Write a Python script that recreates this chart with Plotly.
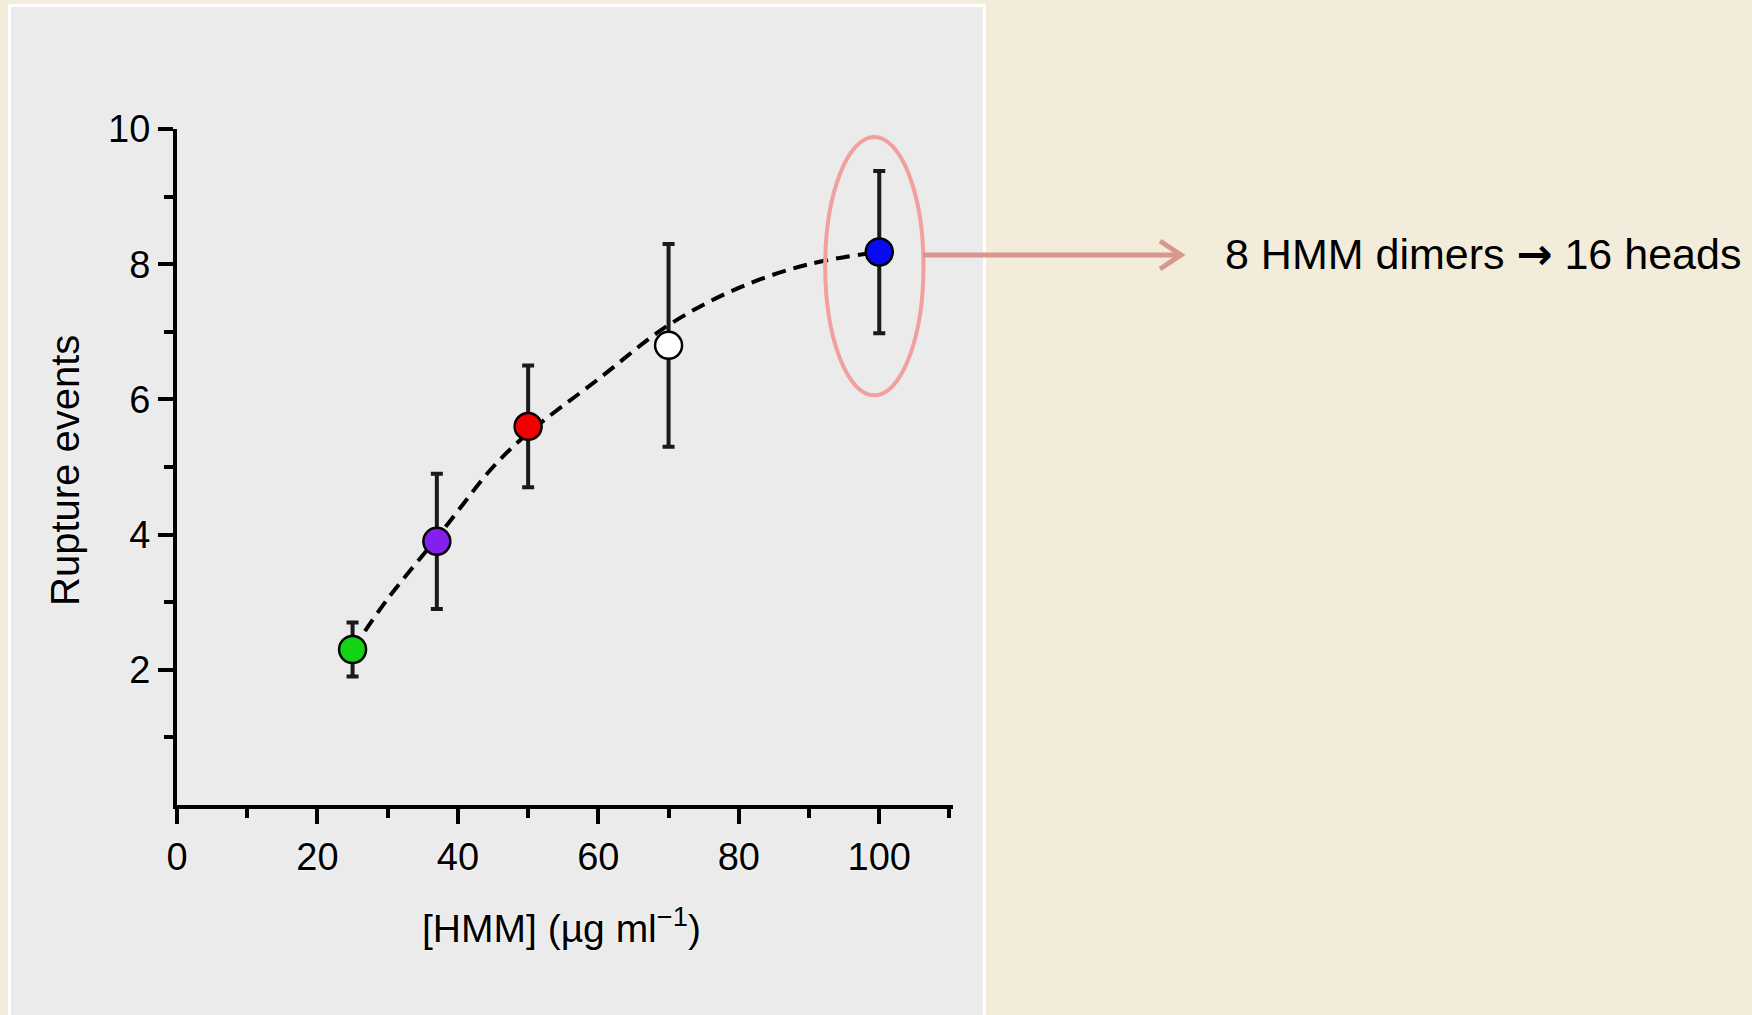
import plotly.graph_objects as go

# =========================
# DATA
# =========================
hmm_conc = [25, 37, 50, 70, 100]
rupture_events = [2.3, 3.9, 5.6, 6.8, 8.18]
rupture_err = [0.4, 1.0, 0.9, 1.5, 1.2]
point_colors = ["#12D412", "#8420EE", "#F20000", "#FFFFFF", "#0A0AF2"]

fit_x = [25, 30, 37, 40, 45, 50, 60, 70, 80, 90, 100]
fit_y = [2.3, 3.05, 3.95, 4.35, 5.0, 5.5, 6.3, 7.1, 7.65, 8.0, 8.18]

x_ticks = [0, 20, 40, 60, 80, 100]
x_minor = [10, 30, 50, 70, 90, 110]
y_ticks = [2, 4, 6, 8, 10]
y_minor = [1, 3, 5, 7, 9]

note_text = ("8 HMM dimers "
             "<span style=\"font-family:'DejaVu Sans';font-weight:bold\">→</span>"
             " 16 heads")

# =========================
# STYLE
# =========================
BEIGE = "#F3ECDA"
PANEL = "#EBEBEB"
BLACK = "#000000"
PINK = "#F0A0A0"
ARROW = "#D9968F"
FONT = "Liberation Sans, Arial, Helvetica, sans-serif"
HALO = "0px 0px 3px #FFFFFF"

W, H = 1752, 1015
ML, MR, MT, MB = 177, 799, 129, 210


def px(x):
    return (x - ML) / (W - ML - MR)


def py(y):
    return (H - MB - y) / (H - MT - MB)


AXIS = dict(
    showgrid=False,
    zeroline=False,
    showline=True,
    linecolor=BLACK,
    linewidth=4,
    ticks="outside",
    tickcolor=BLACK,
    tickwidth=3.5,
    ticklen=15,
    tickfont=dict(family=FONT, size=38, color=BLACK, shadow=HALO),
)

fig = go.Figure()

# fitted curve
fig.add_trace(go.Scatter(
    x=fit_x,
    y=fit_y,
    mode="lines",
    line=dict(color=BLACK, width=4, dash="14px,8px", shape="spline"),
    hoverinfo="skip",
    showlegend=False
))

# measured points
fig.add_trace(go.Scatter(
    x=hmm_conc,
    y=rupture_events,
    mode="markers",
    marker=dict(
        size=27,
        color=point_colors,
        line=dict(color=BLACK, width=2.5)
    ),
    error_y=dict(
        type="data",
        array=rupture_err,
        color="#1A1A1A",
        thickness=4,
        width=6
    ),
    showlegend=False
))

fig.update_layout(
    width=W,
    height=H,
    margin=dict(l=ML, r=MR, t=MT, b=MB, autoexpand=False),
    paper_bgcolor=BEIGE,
    plot_bgcolor="rgba(0,0,0,0)",
    font=dict(family=FONT, color=BLACK),
    xaxis=dict(
        **AXIS,
        range=[0, 110.5],
        tickvals=x_ticks,
        ticktext=[str(v) for v in x_ticks],
        minor=dict(tickvals=x_minor, ticks="outside", ticklen=9,
                   tickwidth=3.5, tickcolor=BLACK),
    ),
    yaxis=dict(
        **AXIS,
        range=[0, 10],
        tickvals=y_ticks,
        ticktext=[str(v) for v in y_ticks],
        minor=dict(tickvals=y_minor, ticks="outside", ticklen=9,
                   tickwidth=3.5, tickcolor=BLACK),
    ),
)

# grey panel with white border
fig.add_shape(type="rect", xref="paper", yref="paper", layer="below",
              x0=px(8), x1=px(986), y0=py(1030), y1=py(4),
              fillcolor="#FFFFFF", line=dict(width=0))
fig.add_shape(type="rect", xref="paper", yref="paper", layer="below",
              x0=px(11), x1=px(983), y0=py(1030), y1=py(7),
              fillcolor=PANEL, line=dict(width=0))

# ellipse round the last point
fig.add_shape(type="circle", xref="x", yref="y",
              x0=92.3, x1=106.3, y0=6.06, y1=9.88,
              line=dict(color=PINK, width=4))

# arrow to the note
fig.add_shape(type="line", xref="paper", yref="paper",
              x0=px(923), x1=px(1180), y0=py(255), y1=py(255),
              line=dict(color=ARROW, width=5))
fig.add_shape(type="path", xref="paper", yref="paper",
              path=f"M {px(1160)},{py(241)} L {px(1181)},{py(255)} L {px(1160)},{py(269)}",
              line=dict(color=ARROW, width=5))

# titles
fig.add_annotation(
    text="Rupture events",
    xref="paper", yref="paper",
    x=px(65), y=py(471),
    xanchor="center", yanchor="middle",
    textangle=-90,
    showarrow=False,
    font=dict(family=FONT, size=40, color=BLACK, shadow=HALO)
)
fig.add_annotation(
    text="[HMM] (µg ml<sup>−1</sup>)",
    xref="paper", yref="paper",
    x=px(561), y=py(925),
    xanchor="center", yanchor="middle",
    showarrow=False,
    font=dict(family=FONT, size=39, color=BLACK, shadow=HALO)
)
fig.add_annotation(
    text=note_text,
    xref="paper", yref="paper",
    x=px(1223), y=py(254),
    xanchor="left", yanchor="middle",
    showarrow=False,
    font=dict(family=FONT, size=43, color=BLACK)
)

fig.write_html(
    "out.html",
    config={"displayModeBar": False},
    post_script="document.body.style.margin='0';"
)
